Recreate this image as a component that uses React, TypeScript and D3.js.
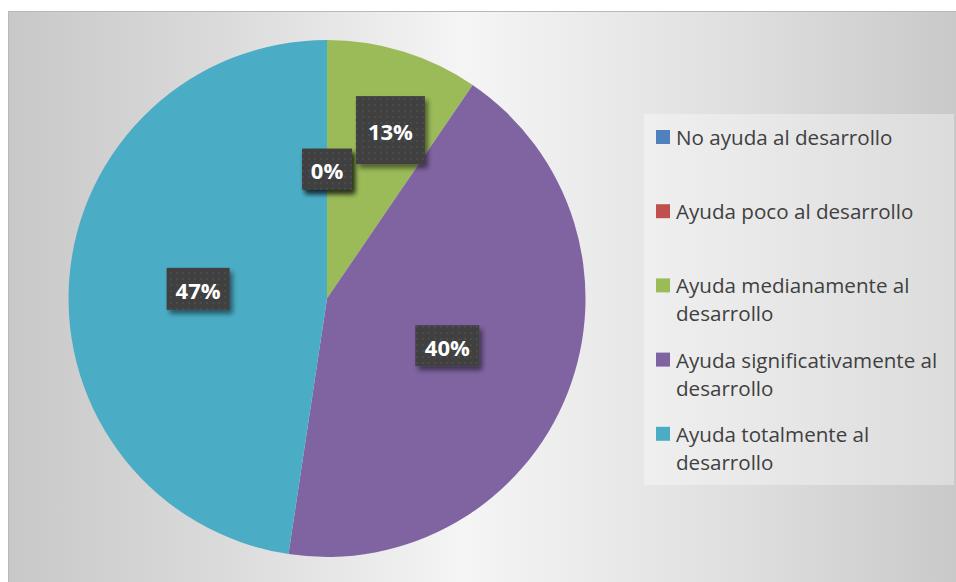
import React from 'react';
import * as d3 from 'd3';

// ---- data ----
const categories = [
  "No ayuda al desarrollo",
  "Ayuda poco al desarrollo",
  "Ayuda medianamente al desarrollo",
  "Ayuda significativamente al desarrollo",
  "Ayuda totalmente al desarrollo",
];
const legendLines = [
  ["No ayuda al desarrollo"],
  ["Ayuda poco al desarrollo"],
  ["Ayuda medianamente al", "desarrollo"],
  ["Ayuda significativamente al", "desarrollo"],
  ["Ayuda totalmente al", "desarrollo"],
];
const values = [0, 0, 2, 9, 10];
const percentLabels = ["0%", "0%", "13%", "40%", "47%"];

// ---- style ----
const colors = ["#4F81BD", "#C0504D", "#9BBB59", "#8064A2", "#4BACC6"];
const labelRadiusFactor = [0.5, 0.5, 0.696, 0.5, 0.5];
const labelAngleShift = [0, 0, 0.061, 0, 0];
const labelBox = [
  [50, 41],
  [50, 41],
  [69, 68],
  [64, 41],
  [63, 42],
];

const W = 956;
const H = 582;
const cx = 327;
const cy = 298.5;
const R = 258.5;
const legendTop = 114;
const legendBottom = 485;
const legendLeft = 644;
const legendRight = 954;
const FONT = "'Open Sans', 'DejaVu Sans', sans-serif";

export default function App() {
  const pie = d3
    .pie<number>()
    .sort(null)
    .value((d) => d);
  const arcs = pie(values);
  const arc = d3.arc<d3.PieArcDatum<number>>().innerRadius(0).outerRadius(R);

  const slot = d3
    .scaleBand<number>()
    .domain(d3.range(categories.length))
    .range([legendTop, legendBottom]);

  return (
    <svg
      width={W}
      height={H}
      style={{ position: 'absolute', left: 0, top: 0 }}
    >
      <defs>
        <linearGradient id="bg" x1="0" y1="0" x2="1" y2="0">
          <stop offset="0" stopColor="#c8c8c8" />
          <stop offset="0.22" stopColor="#dadada" />
          <stop offset="0.48" stopColor="#f5f5f5" />
          <stop offset="0.78" stopColor="#dedede" />
          <stop offset="1" stopColor="#c9c9c9" />
        </linearGradient>
        <pattern id="dots" width="6" height="6" patternUnits="userSpaceOnUse">
          <rect width="6" height="6" fill="#3f3f3f" />
          <rect x="2" y="2" width="2" height="2" fill="#4b4b4b" />
        </pattern>
        <filter id="shadow" x="-30%" y="-30%" width="170%" height="170%">
          <feGaussianBlur in="SourceAlpha" stdDeviation="2.5" />
          <feOffset dx="3" dy="4" result="b" />
          <feComponentTransfer>
            <feFuncA type="linear" slope="0.5" />
          </feComponentTransfer>
          <feMerge>
            <feMergeNode />
            <feMergeNode in="SourceGraphic" />
          </feMerge>
        </filter>
      </defs>

      <rect x={0} y={0} width={W} height={H} fill="#ffffff" />
      <rect
        x={8.5}
        y={11.5}
        width={W - 8}
        height={H - 11}
        fill="url(#bg)"
        stroke="#b8b8b8"
        strokeWidth={1}
      />

      {/* legend box */}
      <rect
        x={legendLeft}
        y={legendTop}
        width={legendRight - legendLeft}
        height={legendBottom - legendTop}
        fill="#ffffff"
        fillOpacity={0.35}
      />

      {/* pie */}
      <g transform={`translate(${cx},${cy})`}>
        {arcs.map((a, i) => (
          <path key={i} d={arc(a) || ''} fill={colors[i]} />
        ))}
      </g>

      {/* data labels */}
      {arcs.map((a, i) => {
        const mid = (a.startAngle + a.endAngle) / 2 + labelAngleShift[i];
        const r = R * labelRadiusFactor[i];
        const x = cx + r * Math.sin(mid);
        const y = cy - r * Math.cos(mid);
        const [bw, bh] = labelBox[i];
        return (
          <g key={i}>
            <rect
              x={x - bw / 2}
              y={y - bh / 2}
              width={bw}
              height={bh}
              fill="url(#dots)"
              filter="url(#shadow)"
            />
            <text
              x={x}
              y={y + 1}
              textAnchor="middle"
              dominantBaseline="central"
              fill="#ffffff"
              fontFamily={FONT}
              fontWeight={700}
              fontSize={22}
            >
              {percentLabels[i]}
            </text>
          </g>
        );
      })}

      {/* legend */}
      {categories.map((c, i) => {
        const top = slot(i) as number;
        const y0 = top + 23;
        return (
          <g key={c}>
            <rect x={656} y={y0 - 7} width={14} height={14} fill={colors[i]} />
            {legendLines[i].map((ln, j) => (
              <text
                key={j}
                x={676}
                y={y0 + j * 28}
                dominantBaseline="central"
                fill="#404040"
                fontFamily={FONT}
                fontSize={20.6}
              >
                {ln}
              </text>
            ))}
          </g>
        );
      })}
    </svg>
  );
}
